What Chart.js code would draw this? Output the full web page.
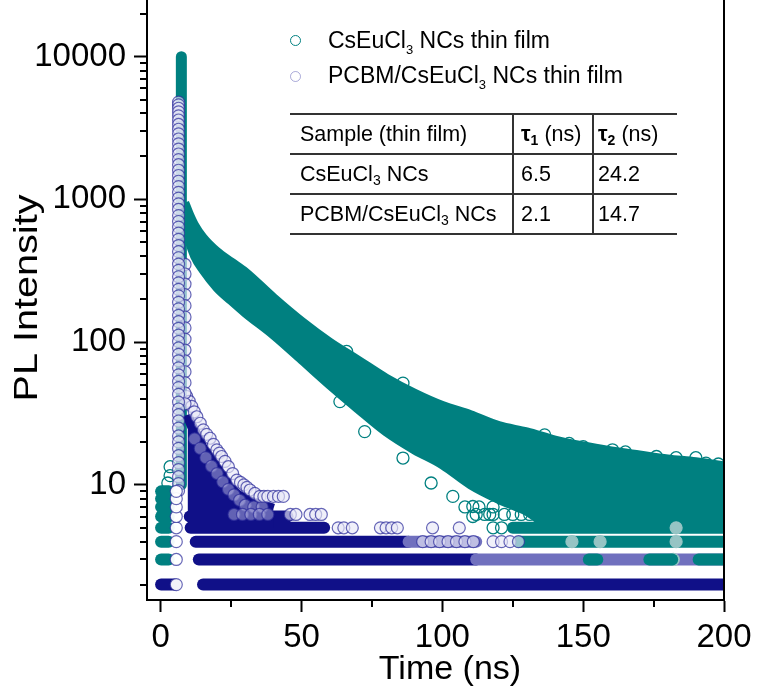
<!DOCTYPE html>
<html>
<head>
<meta charset="utf-8">
<title>PL decay</title>
<script src="https://cdn.jsdelivr.net/npm/chart.js@4.4.1/dist/chart.umd.min.js"></script>
<style>
  html, body { margin: 0; padding: 0; background: #fff; }
  #wrap { position: relative; width: 757px; height: 690px; font-family: "Liberation Sans", Arial, sans-serif; color: #000; }
  #plot { position: absolute; left: 0; top: 0; }
  .mk { position: absolute; width: 11px; height: 11px; box-sizing: border-box; border-radius: 50%; border: 1.5px solid; }
  .leg { position: absolute; left: 328px; font-size: 23px; white-space: nowrap; line-height: 26px; }
  .sub { font-size: 13px; position: relative; top: 6px; }
  table.tau { position: absolute; left: 290px; top: 113px; width: 387px; border-collapse: collapse; table-layout: fixed; font-size: 21.5px; }
  table.tau td { height: 38px; padding: 0 0 0 10px; border-top: 2px solid #333; border-bottom: 2px solid #333; white-space: nowrap; }
  table.tau td + td { border-left: 2px solid #333; padding-left: 7px; }
  table.tau td.c3 { padding-left: 4px; }
  table.tau .tsub { font-size: 14px; position: relative; top: 4px; }
</style>
</head>
<body>
<div id="wrap">
  <canvas id="plot" width="757" height="690"></canvas>
  <span class="mk" style="left:290px; top:35px; border-color:#008080"></span>
  <div class="leg" style="top:27px">CsEuCl<span class="sub">3</span> NCs thin film</div>
  <span class="mk" style="left:290px; top:71px; border-color:rgba(70,70,170,0.45)"></span>
  <div class="leg" style="top:62px">PCBM/CsEuCl<span class="sub">3</span> NCs thin film</div>
  <table class="tau">
    <colgroup><col style="width:223px"><col style="width:80px"><col style="width:84px"></colgroup>
    <tr><td>Sample (thin film)</td><td><b>τ<span class="tsub">1</span></b> (ns)</td><td class="c3"><b>τ<span class="tsub">2</span></b> (ns)</td></tr>
    <tr><td>CsEuCl<span class="tsub">3</span> NCs</td><td>6.5</td><td class="c3">24.2</td></tr>
    <tr><td>PCBM/CsEuCl<span class="tsub">3</span> NCs</td><td>2.1</td><td class="c3">14.7</td></tr>
  </table>
</div>
<script>
const teal = '#008080';
const tealPale = 'rgba(150,196,196,1)';
const navy = 'rgb(16,16,136)';
const navyLight = 'rgb(112,112,190)';
const blueEdge = 'rgba(45,45,155,0.72)';
const blueFill = 'rgba(232,232,248,0.65)';

// axis ticks
const xMajorTicks = [0, 50, 100, 150, 200];
const xMinorTicks = [25, 75, 125, 175];
const yMajorTicks = [10, 100, 1000, 10000];
const yMinorTicks = [2, 3, 4, 5, 6, 7, 8, 9, 20, 30, 40, 50, 60, 70, 80, 90,
  200, 300, 400, 500, 600, 700, 800, 900, 2000, 3000, 4000, 5000, 6000, 7000, 8000, 9000, 20000];

// CsEuCl3 NCs thin film: dense decay band (upper / lower edge of the point cloud)
const tealBandX = [8.5, 10, 12, 15, 20, 25, 30, 40, 50, 60, 70, 80, 90, 100, 110, 120, 130, 140, 150, 160, 170, 180, 190, 200];
const tealBandUpper = [950, 800, 660, 540, 430, 365, 310, 205, 140, 100, 75, 56, 44, 36, 31, 26, 23.5, 20.6, 18.7, 17.3, 16.2, 15.2, 14.5, 13.6];
const tealBandLower = [700, 520, 400, 320, 240, 195, 160, 112, 75, 50, 34, 23.5, 17.6, 13.8, 10, 7.9, 6.5, 5, 5, 5, 5, 5, 5, 5];
// excitation peak
const tealPeakX = [7.3, 7.3];
const tealPeakY = [10, 10000];
// loose points around the band
const tealDotX = [56.5, 66, 63.6, 72.4, 86, 86, 96, 103.7, 110.8, 110.8, 116.8, 136.3, 145, 150, 160.4, 165, 176, 183, 190, 193.6, 198,
  108, 113, 118, 112, 115, 118, 122, 125, 128, 131, 134, 118, 121, 3.3, 3.3, 2.5];
const tealDotY = [104, 86, 38.3, 23.6, 51.6, 15.4, 10.3, 8.3, 7.05, 6, 6.2, 22.4, 19.5, 18.5, 17.6, 17, 15.8, 15.5, 15.5, 14.2, 14,
  7, 7, 7, 6.2, 6.2, 6.2, 6.2, 6.2, 6.2, 6.2, 6.2, 5, 5, 13.4, 11.6, 10.3];
// discrete count rows (level, first x, last x)
const tealRowLevel = [3, 4, 5, 6, 7, 8, 9, 4, 5, 3, 3, 3];
const tealRowStart = [0.1, 0.1, 0.1, 0.1, 0.1, 0.1, 0.1, 127, 125, 152, 173.5, 191];
const tealRowEnd = [2.8, 2.8, 2.8, 2.8, 2.8, 2.8, 2.8, 200, 200, 155, 181.6, 199.5];
const tealPaleX = [146, 156, 183, 183, 182];
const tealPaleY = [4, 4, 4, 5, 3];

// PCBM/CsEuCl3 NCs thin film
const blueColumnX = 6.3;
const blueColumnY = [4800, 4600, 4350, 4100, 3850, 3600, 3350, 3100, 2880, 2650, 2450, 2250, 2080, 1900, 1750, 1600, 1470, 1340, 1230,
  1120, 1020, 930, 850, 770, 700, 640, 580, 525, 475, 430, 390, 352, 318, 287, 260, 234, 211, 190, 171, 154, 139, 125, 112, 101, 91,
  82, 74, 66, 59, 53, 48, 43, 38, 34, 31, 28, 25, 22, 20, 18, 16, 14.3, 12.8, 11.4, 10.2, 9.1];
const blueColumn2X = 8.6;
const blueColumn2Y = [350, 300, 255, 215, 180, 150, 126, 105, 88, 74, 62, 52, 44, 37];
const blueBaseX = 5.5;
const blueBaseY = [2, 3, 4, 5, 6, 7, 8, 9];
const blueTailX = [9.5, 11, 13, 15, 17.5, 20, 22, 24, 27, 31, 35, 40];
const blueTailTop = [31, 26, 22, 18, 15.5, 13, 11.5, 10, 8.6, 7.8, 7.3, 6.8];
const blueTailBottom = [5, 5, 5, 5, 5, 5, 5, 5, 5, 5, 5, 5];
const blueEdgeX = [9.2, 10.1, 11, 11.9, 12.8, 14, 15.1, 16.3, 17.5, 18.7, 19.9, 20.8, 21.6, 22.8, 24, 25.5, 27, 28.3, 29.5, 30.6,
  31.7, 33.4, 35.2, 36.6, 38, 40, 41.8, 43.5, 46, 48, 53, 55, 57];
const blueEdgeY = [41.6, 38.5, 35.5, 32.5, 30, 27, 24.3, 22.6, 21.2, 19.2, 17.6, 16.7, 15.8, 14.6, 13.4, 12, 10.8, 10.4, 10, 9.6,
  9.2, 8.7, 8.3, 8.3, 8.3, 8.3, 8.3, 8.3, 6.2, 6.2, 6.2, 6.2, 6.2];
const blueInnerX = [12, 14, 16, 18, 20, 22, 24, 26, 28, 30, 33, 36, 26, 29, 32, 35, 38];
const blueInnerY = [21, 18, 15.5, 13.5, 12, 10.5, 9.3, 8.5, 7.8, 7.2, 7, 7, 6.2, 6.2, 6.2, 6.2, 6.2];
const blueSparseX = [63, 65, 68, 78, 80, 82, 84, 96.5, 106, 93, 96, 99, 102, 105, 108, 111, 118, 121, 124, 127];
const blueSparseY = [5, 5, 5, 5, 5, 5, 5, 5, 5, 4, 4, 4, 4, 4, 4, 4, 4, 4, 4, 4];
const blueRowLevel = [2, 2, 3, 4, 5, 6];
const blueRowStart = [0.1, 15, 13.5, 12.4, 10.6, 10.3];
const blueRowEnd = [5, 200, 112, 88, 58, 45];
const blueLightRowLevel = [3, 4];
const blueLightRowStart = [112, 88];
const blueLightRowEnd = [200, 112];

function pts(xs, ys) {
  return ys.map((y, i) => ({ x: Array.isArray(xs) ? xs[i] : xs, y }));
}

function rowSets(levels, starts, ends, color, order) {
  return levels.map((lv, i) => ({
    data: [{ x: starts[i], y: lv }, { x: ends[i], y: lv }],
    borderColor: color,
    borderWidth: 12,
    borderCapStyle: 'round',
    pointRadius: 0,
    fill: false,
    clip: 0,
    order,
  }));
}

function dotSet(xs, ys, border, fillColor, order, width = 1.2) {
  return {
    data: pts(xs, ys),
    showLine: false,
    pointRadius: 6,
    pointBorderWidth: width,
    pointBorderColor: border,
    pointBackgroundColor: fillColor,
    clip: 0,
    order,
  };
}

const datasets = [
  {
    data: pts(tealBandX, tealBandUpper),
    borderColor: teal, backgroundColor: teal, borderWidth: 9,
    fill: '+1', pointRadius: 0, cubicInterpolationMode: 'monotone', clip: 0, order: 20,
  },
  {
    data: pts(tealBandX, tealBandLower),
    borderColor: teal, borderWidth: 9,
    fill: false, pointRadius: 0, cubicInterpolationMode: 'monotone', clip: 0, order: 20,
  },
  {
    data: pts(tealPeakX, tealPeakY),
    borderColor: teal, borderWidth: 11, borderCapStyle: 'round',
    fill: false, pointRadius: 0, clip: 0, order: 19,
  },
  ...rowSets(tealRowLevel.slice(0, 9), tealRowStart, tealRowEnd, teal, 18),
  dotSet(tealDotX, tealDotY, teal, 'rgba(255,255,255,0)', 17, 1.3),
  ...rowSets(blueRowLevel, blueRowStart, blueRowEnd, navy, 10),
  ...rowSets(blueLightRowLevel, blueLightRowStart, blueLightRowEnd, navyLight, 9),
  {
    data: pts(blueTailX, blueTailTop),
    borderColor: navy, backgroundColor: navy, borderWidth: 10,
    fill: '+1', pointRadius: 0, cubicInterpolationMode: 'monotone', clip: 0, order: 8,
  },
  {
    data: pts(blueTailX, blueTailBottom),
    borderColor: navy, borderWidth: 10,
    fill: false, pointRadius: 0, clip: 0, order: 8,
  },
  dotSet(blueInnerX, blueInnerY, blueEdge, 'rgba(200,200,235,0.45)', 7.5),
  dotSet(blueEdgeX, blueEdgeY, blueEdge, blueFill, 7),
  dotSet(blueSparseX, blueSparseY, blueEdge, blueFill, 7),
  ...rowSets(tealRowLevel.slice(9), tealRowStart.slice(9), tealRowEnd.slice(9), teal, 6),
  dotSet(tealPaleX, tealPaleY, tealPale, tealPale, 6),
  dotSet(blueColumn2X, blueColumn2Y, blueEdge, blueFill, 5),
  dotSet(blueColumnX, blueColumnY, blueEdge, blueFill, 4),
  dotSet(blueBaseX, blueBaseY, blueEdge, 'rgba(255,255,255,0.95)', 3),
];

const frame = {
  id: 'frame',
  afterDraw(chart) {
    const { ctx, chartArea: a, scales: { x, y } } = chart;
    ctx.save();
    ctx.strokeStyle = '#000';
    ctx.lineWidth = 2;
    ctx.beginPath();
    ctx.moveTo(a.right, a.top);
    ctx.lineTo(a.right, a.bottom + 1);
    ctx.stroke();
    ctx.beginPath();
    xMinorTicks.forEach((v) => {
      const px = Math.round(x.getPixelForValue(v));
      ctx.moveTo(px, a.bottom);
      ctx.lineTo(px, a.bottom + 7);
    });
    yMinorTicks.forEach((v) => {
      const py = Math.round(y.getPixelForValue(v));
      ctx.moveTo(a.left, py);
      ctx.lineTo(a.left - 7, py);
    });
    ctx.stroke();
    ctx.fillStyle = '#000';
    ctx.textAlign = 'center';
    ctx.textBaseline = 'alphabetic';
    ctx.font = '34px "Liberation Sans", Arial, sans-serif';
    ctx.fillText('Time (ns)', 450, 679);
    ctx.translate(37, 298);
    ctx.rotate(-Math.PI / 2);
    ctx.scale(1.2, 1);
    ctx.font = '33px "Liberation Sans", Arial, sans-serif';
    ctx.fillText('PL Intensity', 0, 0);
    ctx.restore();
  },
};

const tickFont = { family: '"Liberation Sans", Arial, sans-serif', size: 33 };

new Chart(document.getElementById('plot'), {
  type: 'line',
  data: { datasets },
  options: {
    responsive: false,
    animation: false,
    devicePixelRatio: 1,
    layout: { autoPadding: false, padding: { top: 0, right: 33, bottom: 0, left: 0 } },
    plugins: { legend: { display: false }, tooltip: { enabled: false } },
    scales: {
      x: {
        type: 'linear',
        min: -4.9,
        max: 200,
        afterBuildTicks: (s) => { s.ticks = xMajorTicks.map((v) => ({ value: v })); },
        afterFit: (s) => { s.height = 90; s.paddingLeft = 0; s.paddingRight = 0; },
        ticks: { font: tickFont, color: '#000', padding: 6, maxRotation: 0, callback: (v) => String(v) },
        grid: { display: true, drawOnChartArea: false, drawTicks: true, tickLength: 12, tickWidth: 2, tickColor: '#000' },
        border: { display: true, color: '#000', width: 2 },
      },
      y: {
        type: 'logarithmic',
        min: 1.56,
        max: 24950,
        afterBuildTicks: (s) => { s.ticks = yMajorTicks.map((v) => ({ value: v })); },
        afterFit: (s) => { s.width = 147; s.paddingTop = 0; s.paddingBottom = 0; },
        ticks: { font: tickFont, color: '#000', padding: 8, callback: (v) => String(v) },
        grid: { display: true, drawOnChartArea: false, drawTicks: true, tickLength: 13, tickWidth: 2, tickColor: '#000' },
        border: { display: true, color: '#000', width: 2 },
      },
    },
  },
  plugins: [frame],
});
</script>
</body>
</html>
